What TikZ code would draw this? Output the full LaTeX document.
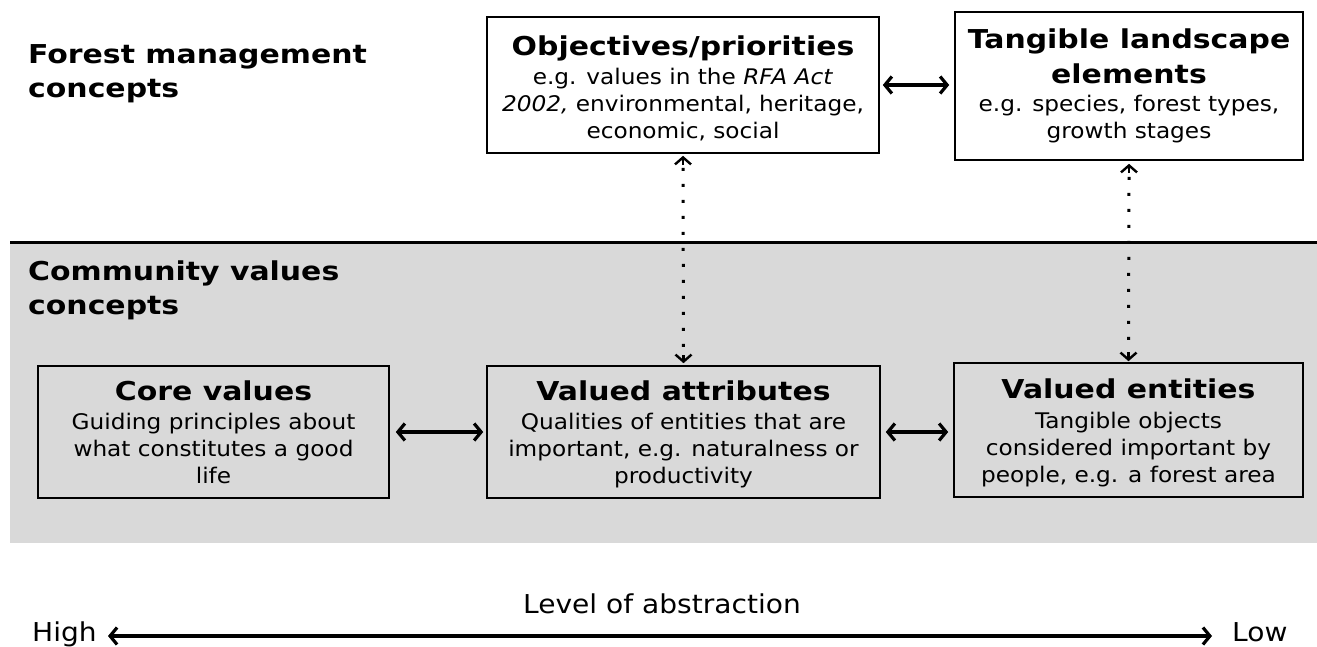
\documentclass[tikz,border=0pt]{standalone}
\usepackage{fontspec}
\setmainfont{DejaVu Sans}[FakeStretch=1.08]
\newfontfamily\ttlfont{DejaVu Sans}[FakeStretch=1.15]
\usetikzlibrary{arrows.meta}
\definecolor{band}{HTML}{D9D9D9}
\begin{document}
\begin{tikzpicture}[x=1pt,y=-1pt,
  box/.style={draw=black,line width=1.6pt,fill=white,inner sep=0pt},
  graybox/.style={box,fill=band},
  txt/.style={align=center,inner sep=0pt,anchor=north,font=\fontsize{21.5}{27}\selectfont},
  heading/.style={font=\ttlfont\bfseries\fontsize{26}{34}\selectfont,align=left,anchor=north west,inner sep=0pt},
  dbl/.style={{Straight Barb[length=7pt,width=17pt]}-{Straight Barb[length=7pt,width=17pt]},line width=3.2pt},
  dots/.style={line width=3pt,dash pattern=on 3pt off 13pt},
  dtip/.style={solid,line width=2.4pt,-{Straight Barb[length=7pt,width=16pt]}},
  lbl/.style={font=\fontsize{26}{30}\selectfont,inner sep=0pt}]
\newcommand\ttl[1]{{\ttlfont\bfseries\fontsize{26}{27}\selectfont #1}}
\useasboundingbox (0,0) rectangle (1317,646);
% gray band
\fill[band] (10,242) rectangle (1317,543);
\draw[line width=3pt] (10,242) -- (1317,242);
% headings
\node[heading] (fm) at (28,44) {Forest management\\concepts};
\node[heading] (cv) at (28,261) {Community values\\concepts};
% top boxes
\node[box,minimum width=392pt,minimum height=136pt] (obj) at (683,85) {};
\node[txt] (objt) at (683,36) {\ttl{Objectives/priorities}\\[2pt]
  e.g. values in the \textit{RFA Act}\\
  \textit{2002,} environmental, heritage,\\
  economic, social};
\node[box,minimum width=348pt,minimum height=148pt] (tan) at (1129,86) {};
\node[txt] (tant) at (1129,29) {\ttl{Tangible landscape}\\[8pt]
  \ttl{elements}\\[1pt]
  e.g. species, forest types,\\
  growth stages};
% bottom boxes
\node[graybox,minimum width=351pt,minimum height=132pt] (core) at (213.5,432) {};
\node[txt] (coret) at (213.5,381) {\ttl{Core values}\\[2pt]
  Guiding principles about\\
  what constitutes a good\\
  life};
\node[graybox,minimum width=393pt,minimum height=132pt] (att) at (683.5,432) {};
\node[txt] (attt) at (683.5,381) {\ttl{Valued attributes}\\[2pt]
  Qualities of entities that are\\
  important, e.g. naturalness or\\
  productivity};
\node[graybox,minimum width=349pt,minimum height=134pt] (ent) at (1128.5,430) {};
\node[txt] (entt) at (1128.5,379) {\ttl{Valued entities}\\[3pt]
  Tangible objects\\
  considered important by\\
  people, e.g. a forest area};
% connectors
\draw[dbl] ([xshift=3pt]obj.east) -- ([xshift=-5pt]tan.west |- obj.east);
\draw[dbl] ([xshift=6pt]core.east) -- ([xshift=-3pt]att.west);
\draw[dbl] ([xshift=5pt]att.east) -- ([xshift=-5pt]ent.west |- att.east);
% dotted links
\draw[dots] ([yshift=-14pt]obj.south) -- ([yshift=12pt]att.north);
\draw[dtip] ([yshift=-11pt]obj.south) -- ([yshift=-2pt]obj.south);
\draw[dtip] ([yshift=10pt]att.north) -- ([yshift=2pt]att.north);
\draw[dots] ([yshift=-16pt]tan.south) -- ([yshift=12pt]ent.north);
\draw[dtip] ([yshift=-12pt]tan.south) -- ([yshift=-3pt]tan.south);
\draw[dtip] ([yshift=10pt]ent.north) -- ([yshift=1pt]ent.north);
% abstraction axis
\node[lbl,anchor=base west] (hi) at (32,641) {High};
\node[lbl,anchor=base west] (lo) at (1232,641) {Low};
\node[lbl,anchor=base] (lev) at (662,613) {Level of abstraction};
\coordinate (hiend) at (108,636);
\coordinate (loend) at (1212,636);
\draw[dbl] (hiend) -- (loend);
\end{tikzpicture}
\end{document}
